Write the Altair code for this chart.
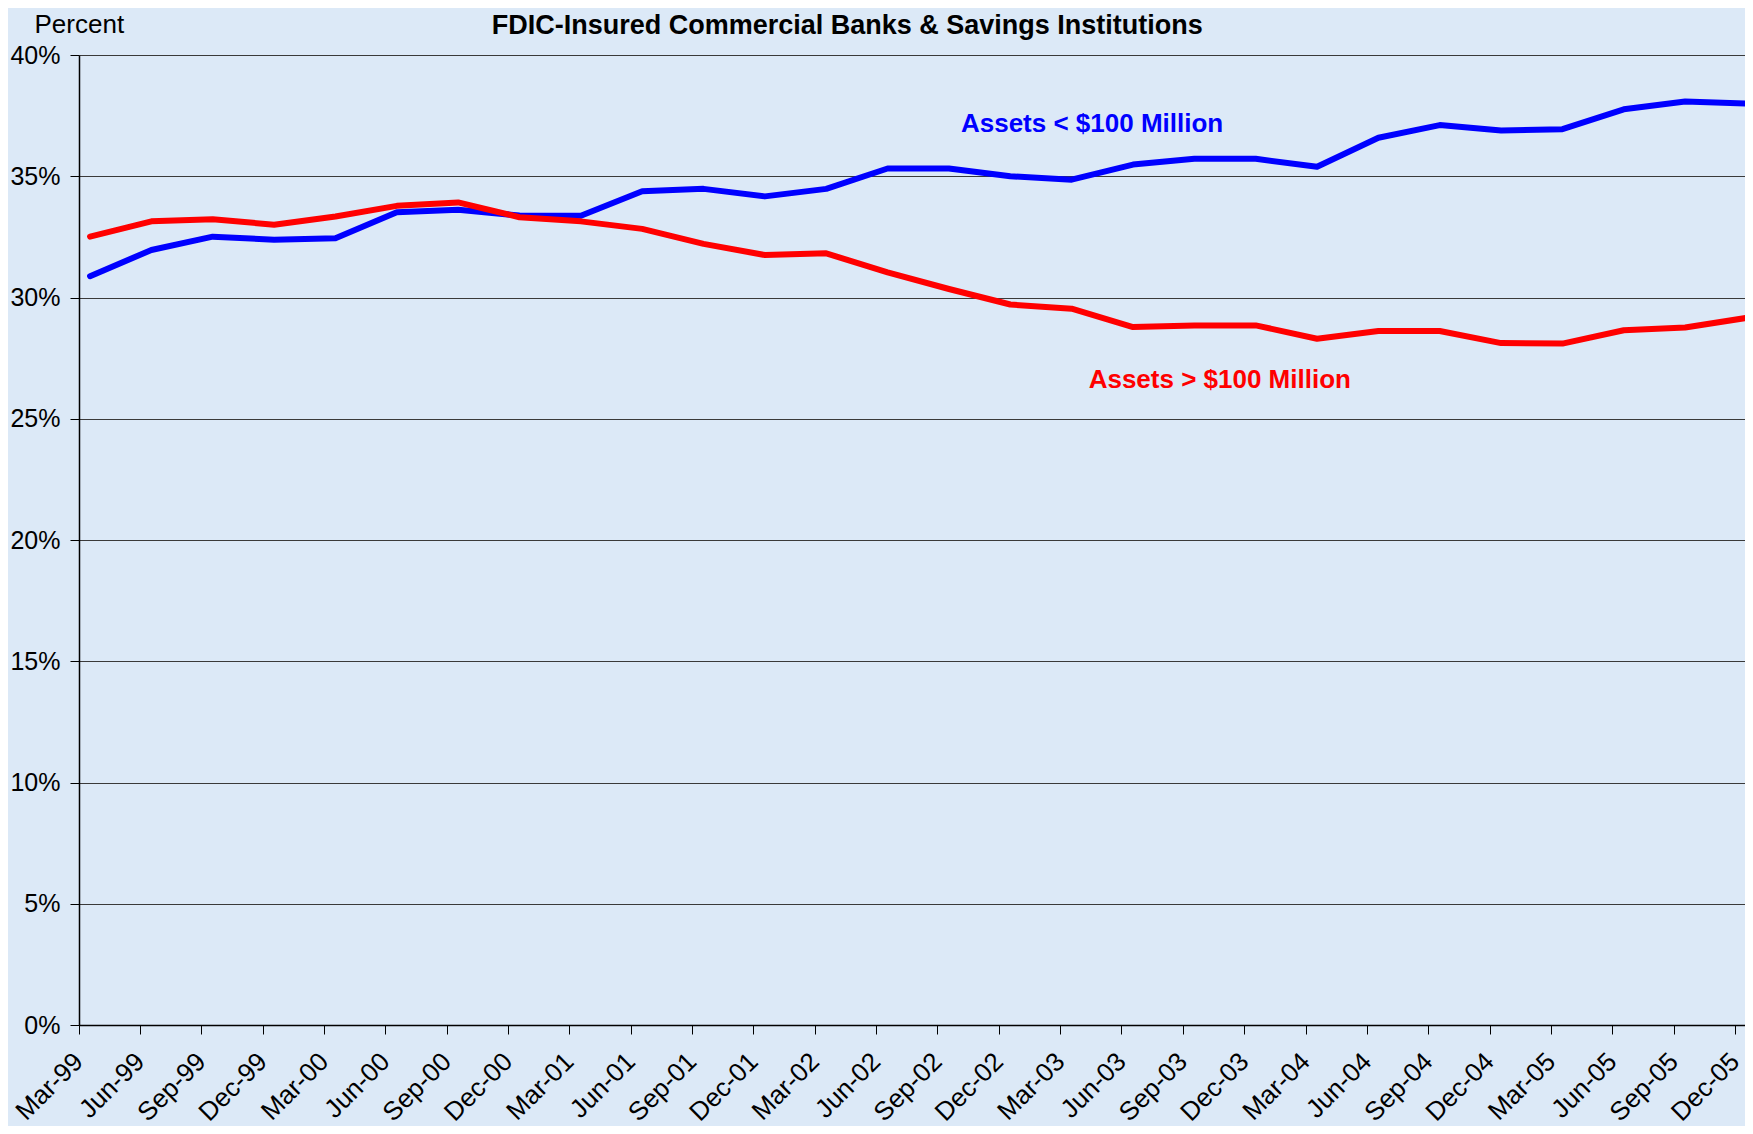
import altair as alt
import pandas as pd

# ---- data ----
quarters = [
    "Mar-99", "Jun-99", "Sep-99", "Dec-99",
    "Mar-00", "Jun-00", "Sep-00", "Dec-00",
    "Mar-01", "Jun-01", "Sep-01", "Dec-01",
    "Mar-02", "Jun-02", "Sep-02", "Dec-02",
    "Mar-03", "Jun-03", "Sep-03", "Dec-03",
    "Mar-04", "Jun-04", "Sep-04", "Dec-04",
    "Mar-05", "Jun-05", "Sep-05", "Dec-05",
]
small_banks = [
    30.88, 31.96, 32.51, 32.38, 32.44, 33.52, 33.62, 33.38,
    33.37, 34.38, 34.48, 34.17, 34.48, 35.32, 35.32, 35.00,
    34.86, 35.48, 35.72, 35.72, 35.39, 36.59, 37.11, 36.89,
    36.94, 37.76, 38.08, 38.00,
]
large_banks = [
    32.51, 33.14, 33.23, 33.00, 33.34, 33.78, 33.92, 33.31,
    33.14, 32.83, 32.21, 31.75, 31.82, 31.04, 30.35, 29.71,
    29.54, 28.78, 28.85, 28.85, 28.30, 28.62, 28.62, 28.12,
    28.10, 28.65, 28.76, 29.16,
]
series_names = ["Assets < $100 Million", "Assets > $100 Million"]
series_colors = ["#0000FF", "#FF0000"]
y_ticks = [0, 5, 10, 15, 20, 25, 30, 35, 40]
label_quarters = ["Sep-02", "Mar-03"]
label_values = [36.84, 26.25]
title_text = ["FDIC-Insured Commercial Banks & Savings Institutions"]
title_quarter = ["Mar-02"]
title_value = [40.85]

FONT = "Liberation Sans"
STEP = 61.35
POINT_POS = 0.18

rows = []
for q, s, l in zip(quarters, small_banks, large_banks):
    rows.append({"quarter": q, "series": series_names[0], "value": s})
    rows.append({"quarter": q, "series": series_names[1], "value": l})
df = pd.DataFrame(rows)

lab_blue = pd.DataFrame({"quarter": [label_quarters[0]], "value": [label_values[0]],
                         "series": [series_names[0]], "text": [series_names[0]]})
lab_red = pd.DataFrame({"quarter": [label_quarters[1]], "value": [label_values[1]],
                        "series": [series_names[1]], "text": [series_names[1]]})
title_df = pd.DataFrame({"quarter": title_quarter, "value": title_value, "text": title_text})

x_scale = alt.Scale(type="band", domain=quarters, range=[0, STEP * len(quarters)],
                    paddingInner=0, paddingOuter=0)
y_scale = alt.Scale(domain=[0, 40], nice=False)
color_scale = alt.Scale(domain=series_names, range=series_colors)

x_axis = alt.Axis(
    title=None, labelAngle=-45, labelAlign="right", labelBaseline="top",
    labelFontSize=26, labelFont=FONT, labelColor="black", labelPadding=14,
    labelOffset=-40, labelOverlap=False, labelFlush=False,
    tickSize=9, tickColor="black", tickWidth=1,
    domainColor="black", domainWidth=1.5, bandPosition=0, grid=False,
)
y_axis = alt.Axis(
    values=y_ticks, labelExpr="datum.value + '%'", labelFontSize=25,
    labelFont=FONT, labelColor="black", labelPadding=10, tickSize=9,
    tickColor="black", domainColor="black", domainWidth=1.5,
    grid=True, gridColor="#3a3a3a", gridWidth=1,
    title="Percent", titleAngle=0, titleX=-45, titleY=-23,
    titleAlign="left", titleBaseline="alphabetic", titleFontSize=26,
    titleFontWeight="normal", titleFont=FONT, titleColor="black",
)

X = alt.X("quarter:N", scale=x_scale, bandPosition=POINT_POS, axis=x_axis)
Y = alt.Y("value:Q", scale=y_scale, axis=y_axis)
C = alt.Color("series:N", scale=color_scale, legend=None)

lines = alt.Chart(df).mark_line(strokeWidth=6, strokeJoin="round", strokeCap="round").encode(
    x=X, y=Y, color=C
)

text_blue = alt.Chart(lab_blue).mark_text(
    align="left", baseline="alphabetic", fontSize=26, fontWeight="bold", font=FONT, dx=12
).encode(x=X, y=Y, color=C, text="text:N")

text_red = alt.Chart(lab_red).mark_text(
    align="left", baseline="alphabetic", fontSize=26, fontWeight="bold", font=FONT, dx=17
).encode(x=X, y=Y, color=C, text="text:N")

title_mark = alt.Chart(title_df).mark_text(
    align="center", baseline="alphabetic", fontSize=27, fontWeight="bold", font=FONT,
    color="black", dx=21
).encode(x=X, y=Y, text="text:N")

chart = alt.layer(lines, text_blue, text_red, title_mark).properties(
    width=1666,
    height=970,
    autosize=alt.AutoSizeParams(type="none"),
    padding={"left": 71, "top": 47, "right": 0, "bottom": 101},
).configure(
    background="#dce9f7",
    font=FONT,
).configure_view(stroke=None)

chart.save("out.html", embed_options={"renderer": "svg", "actions": False})
